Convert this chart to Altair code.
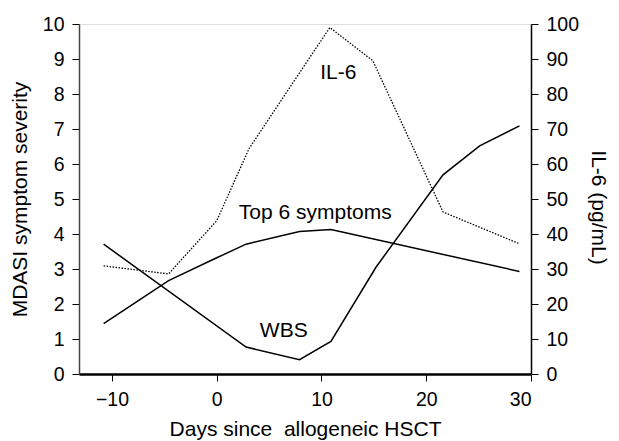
import altair as alt
import pandas as pd

# ---- data ----
top6_days = [-10.8, -4.6, 0.0, 2.8, 7.9, 10.9, 28.9]
top6_vals = [1.44, 2.67, 3.32, 3.71, 4.07, 4.13, 2.93]

wbs_days = [-10.8, 2.8, 7.9, 10.9, 15.2, 21.6, 25.1, 28.9]
wbs_vals = [3.71, 0.77, 0.41, 0.93, 3.05, 5.69, 6.52, 7.09]

il6_days = [-10.8, -4.6, 0.0, 3.1, 10.8, 14.9, 21.6, 28.9]
il6_vals = [30.9, 28.6, 43.8, 64.5, 99.0, 89.5, 46.3, 37.2]

label_text = ["IL-6", "Top 6 symptoms", "WBS"]
label_day = [11.6, 9.4, 6.4]
label_v = [8.6, 4.59, 1.22]

x_ticks = [-10, 0, 10, 20, 30]
left_ticks = list(range(0, 11))
right_ticks = list(range(0, 101, 10))

FONT = "Liberation Sans"

df_left = pd.DataFrame({
    "day": top6_days + wbs_days,
    "v": top6_vals + wbs_vals,
    "series": ["Top 6 symptoms"] * len(top6_days) + ["WBS"] * len(wbs_days),
})
df_il6 = pd.DataFrame({"day": il6_days, "il6": il6_vals})
df_lab = pd.DataFrame({"day": label_day, "v": label_v, "text": label_text})

xscale = alt.Scale(domain=[-13.15, 30], nice=False, zero=False)
xaxis = alt.Axis(
    values=x_ticks, format="d", title="Days since\u00a0 allogeneic HSCT", grid=False,
    tickSize=7, tickColor="black", labelPadding=9, domainWidth=2.5, domainColor="black",
    labelFontSize=19.5, labelFont=FONT, labelColor="black",
    titleFontSize=21, titleFont=FONT, titleColor="black", titleFontWeight="normal",
    titleY=61, titleBaseline="alphabetic",
)
x_enc = alt.X("day:Q", scale=xscale, axis=xaxis)

yleft_axis = alt.Axis(
    values=left_ticks, title="MDASI symptom severity", grid=False,
    tickSize=7, tickColor="black", labelPadding=8, domainWidth=1.5, domainColor="#444444",
    labelFontSize=19.5, labelFont=FONT, labelColor="black",
    titleFontSize=21, titleFont=FONT, titleColor="black", titleFontWeight="normal",
    titleX=-59, titleY=175, titleAngle=270, titleBaseline="middle",
)
y_left = alt.Y("v:Q", scale=alt.Scale(domain=[0, 10], nice=False), axis=yleft_axis)

yright_axis = alt.Axis(
    orient="right", values=right_ticks, title="IL-6 (pg/mL)", grid=False,
    tickSize=7, tickColor="black", labelPadding=8, domainWidth=1.5, domainColor="black",
    labelFontSize=19.5, labelFont=FONT, labelColor="black",
    titleFontSize=21, titleFont=FONT, titleColor="black", titleFontWeight="normal",
    titleX=66, titleY=183, titleAngle=90, titleBaseline="middle",
)

lines_left = alt.Chart(df_left).mark_line(color="black", strokeWidth=1.5).encode(
    x=x_enc, y=y_left, detail="series:N"
)
labels = alt.Chart(df_lab).mark_text(
    font=FONT, fontSize=21, color="black", align="center", baseline="middle"
).encode(x=x_enc, y=y_left, text="text:N")

left = alt.layer(lines_left, labels)

il6_line = alt.Chart(df_il6).mark_line(
    color="black", strokeWidth=1.3, strokeDash=[1.5, 1.5]
).encode(
    x=x_enc,
    y=alt.Y("il6:Q", scale=alt.Scale(domain=[0, 100], nice=False), axis=yright_axis),
)

chart = alt.layer(left, il6_line).resolve_scale(y="independent").properties(
    width=452, height=350,
    autosize=alt.AutoSizeParams(type="none"),
    padding={"left": 71, "top": 16, "right": 80, "bottom": 67},
).configure_view(stroke="black", strokeWidth=1.3).configure(background="white")

chart.save("out.html", embed_options={"renderer": "svg", "actions": False})
